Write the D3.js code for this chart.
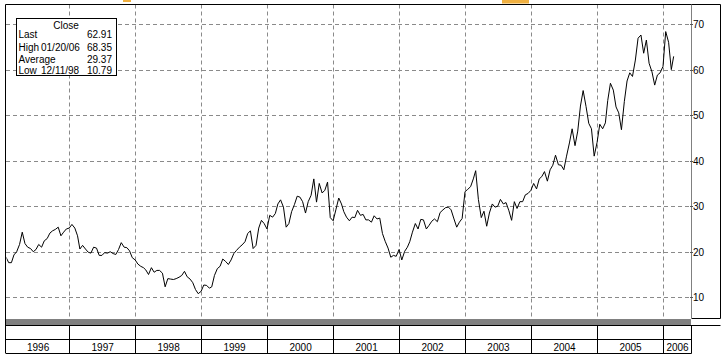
<!DOCTYPE html>
<html><head><meta charset="utf-8">
<script src="https://cdn.jsdelivr.net/npm/d3@7"></script>
<style>
html,body{margin:0;padding:0;background:#fff;}
svg{display:block;}
text{font-family:"Liberation Sans",Arial,sans-serif;font-size:10px;fill:#000;}
</style></head><body>
<svg id="chart" width="722" height="360"></svg>
<script>
// ---- data (semi-monthly closes: 1st and 16th of each month) ----
const yearLabels = [1996,1997,1998,1999,2000,2001,2002,2003,2004,2005,2006];
const close1996 = [18.9,17.6,17.6,19.3,20.0,21.6,24.3,21.8,21.0,20.7,20.0,20.5,21.6,21.0,22.4,22.9,24.1,24.6,24.9,25.4,23.5,24.3,25.0]; // from Jan 16
const close1997 = [25.2,26.0,25.2,23.5,20.6,21.4,20.6,19.9,19.7,21.0,20.8,19.2,19.2,19.8,19.7,20.0,19.6,19.4,20.5,22.0,21.0,20.9,20.2,18.7];
const close1998 = [18.2,17.3,16.8,16.5,16.0,15.0,16.5,15.5,15.9,15.9,15.3,12.3,14.1,14.0,13.9,14.1,14.4,14.8,15.7,14.5,14.0,13.2,11.7,10.79];
const close1999 = [11.3,12.7,12.6,12.0,12.3,14.8,16.3,16.8,18.4,17.9,17.2,18.2,19.6,20.3,21.0,21.5,22.2,24.0,24.6,20.7,21.4,25.2,26.9,26.2];
const close2000 = [25.0,28.0,27.6,28.4,30.5,31.4,29.8,25.4,26.2,28.8,30.4,32.2,32.0,31.0,28.5,31.0,32.4,36.0,30.9,35.0,32.9,33.5,35.3,27.5];
const close2001 = [26.8,29.2,31.8,30.5,28.8,27.6,26.8,27.6,27.5,29.1,28.0,28.2,27.0,27.0,26.5,27.9,27.2,27.4,24.0,22.3,20.8,18.8,19.2,19.0];
const close2002 = [20.5,18.2,20.1,21.0,22.2,24.3,26.2,25.0,27.1,27.0,25.0,25.8,26.7,27.2,26.6,28.6,29.2,29.7,29.8,29.2,27.2,25.4,26.5,27.3];
const close2003 = [33.2,33.7,34.3,36.0,37.8,31.5,27.5,28.9,25.6,28.5,30.5,29.8,30.0,31.5,30.5,30.8,29.0,26.9,31.0,29.5,31.0,31.0,32.5,32.8];
const close2004 = [33.5,35.0,33.8,36.0,36.5,37.6,35.5,38.0,39.0,41.2,39.1,39.0,38.0,41.0,43.9,47.0,43.3,46.5,52.0,55.4,51.9,48.2,47.0,41.0];
const close2005 = [44.0,48.0,47.0,48.3,53.2,57.0,55.5,51.8,50.5,46.8,53.0,57.5,59.3,58.5,62.1,66.9,67.6,63.6,66.5,61.4,59.5,56.6,58.8,59.3];
const close2006 = [60.7,68.35,66.0,60.0,62.91];
const yTicks = [10,20,30,40,50,60,70];
const legendTitle = "Close";
const legendLabels = ["Last","High","Average","Low"];
const legendDates = ["","01/20/06","","12/11/98"];
const legendValues = ["62.91","68.35","29.37","10.79"];

const yearly = [close1996,close1997,close1998,close1999,close2000,close2001,close2002,close2003,close2004,close2005,close2006];
const data = [];
yearly.forEach((arr,k)=>{
  const yr = yearLabels[k];
  const off = k===0 ? 1 : 0;
  arr.forEach((v,j)=>{
    const s = j+off;
    data.push({date:new Date(yr, Math.floor(s/2), s%2 ? 16 : 1), close:v});
  });
});

// ---- layout ----
const L=6, R=692, FR=720, T=4.5, B=318;
const svg = d3.select("#chart");
const x = d3.scaleTime().domain([new Date(1996,0,17), new Date(2006,5,5)]).range([L,691]);
const y = d3.scaleLinear().domain([5.45,74.3]).range([B,T]);
const px = v => Math.round(v)+0.5;

// decorative orange fragments at top
svg.append("rect").attr("x",123).attr("y",0).attr("width",8).attr("height",2).attr("fill","#f0b040");
svg.append("rect").attr("x",502).attr("y",0).attr("width",27).attr("height",3.5).attr("fill","#f0b040");

// grid
const grid = svg.append("g").attr("stroke","#8a8a8a").attr("stroke-dasharray","4,3").attr("stroke-width",1);
grid.selectAll("line.h").data(yTicks).join("line")
  .attr("x1",L).attr("x2",R).attr("y1",d=>px(y(d))).attr("y2",d=>px(y(d)));
const yearStarts = yearLabels.slice(1).map(yr=>new Date(yr,0,1));
grid.selectAll("line.v").data(yearStarts).join("line")
  .attr("x1",d=>px(x(d))).attr("x2",d=>px(x(d))).attr("y1",T).attr("y2",B);

// line
svg.append("clipPath").attr("id","clip").append("rect").attr("x",L+0.5).attr("y",T).attr("width",R-L-0.5).attr("height",B-T);
svg.append("path").datum(data)
  .attr("clip-path","url(#clip)")
  .attr("fill","none").attr("stroke","#000").attr("stroke-width",1)
  .attr("d", d3.line().x(d=>x(d.date)).y(d=>y(d.close)));

// frame
svg.append("line").attr("x1",L-0.5).attr("x2",FR+0.5).attr("y1",4.5).attr("y2",4.5).attr("stroke","#000");
svg.append("line").attr("x1",L-0.5).attr("x2",L-0.5).attr("y1",4.5).attr("y2",353).attr("stroke","#000");
svg.append("line").attr("x1",FR+0.5).attr("x2",FR+0.5).attr("y1",4.5).attr("y2",318.5).attr("stroke","#000");
svg.append("line").attr("x1",R-0.5).attr("x2",FR+0.5).attr("y1",318.5).attr("y2",318.5).attr("stroke","#000");
svg.append("line").attr("x1",R-0.5).attr("x2",R-0.5).attr("y1",4.5).attr("y2",318.5).attr("stroke","#808080");
svg.append("rect").attr("x",L).attr("y",319).attr("width",R-L-1).attr("height",6).attr("fill","#808080");
svg.append("line").attr("x1",L-0.5).attr("x2",FR+0.5).attr("y1",325.5).attr("y2",325.5).attr("stroke","#000");

// y axis
const yAxis = d3.axisRight(y).tickValues(yTicks).tickSize(3).tickPadding(0).tickFormat(d3.format("d"));
const ga = svg.append("g").attr("transform",`translate(${R-2},0)`).call(yAxis);
ga.select(".domain").remove();
ga.selectAll(".tick line").attr("stroke","#555");
ga.selectAll(".tick text").attr("font-size",null).attr("font-family",null).attr("fill","#000").attr("dy","0.35em");
ga.selectAll(".tick").attr("transform",d=>`translate(0,${px(y(d))})`);

// year table
const tbl = svg.append("g");
tbl.append("line").attr("x1",L-0.5).attr("x2",691.5).attr("y1",339.5).attr("y2",339.5).attr("stroke","#000");
tbl.append("line").attr("x1",L-0.5).attr("x2",691.5).attr("y1",353.5).attr("y2",353.5).attr("stroke","#000");
const cells = yearLabels.map(yr=>{
  const a = Math.max(L, x(new Date(yr,0,1)));
  const b = Math.min(691, x(new Date(yr+1,0,1)));
  return {yr, a, b};
});
tbl.selectAll("line.c").data(cells).join("line")
  .attr("x1",d=>px(d.b)).attr("x2",d=>px(d.b)).attr("y1",325.5).attr("y2",353.5).attr("stroke","#000");
tbl.selectAll("text").data(cells).join("text")
  .attr("x",d=>(d.a+d.b)/2+0.5).attr("y",351).attr("text-anchor","middle").text(d=>d.yr);

// legend
const lg = svg.append("g");
lg.append("rect").attr("x",16.5).attr("y",18.5).attr("width",100).attr("height",57).attr("fill","#fff").attr("stroke","#000");
lg.append("text").attr("x",66).attr("y",29).attr("text-anchor","middle").attr("font-size","9.5px").text(legendTitle);
const rowY = [38,51,62.5,74];
legendLabels.forEach((lab,i)=>{
  const t = lg.append("text").attr("y",rowY[i]).attr("font-size","9px");
  t.append("tspan").attr("x",18.5).text(lab);
  if (legendDates[i]) t.append("tspan").attr("x",41).text(legendDates[i]);
  lg.append("text").attr("x",112).attr("y",rowY[i]).attr("text-anchor","end").attr("font-size","9.5px").text(legendValues[i]);
});
</script>
</body></html>
